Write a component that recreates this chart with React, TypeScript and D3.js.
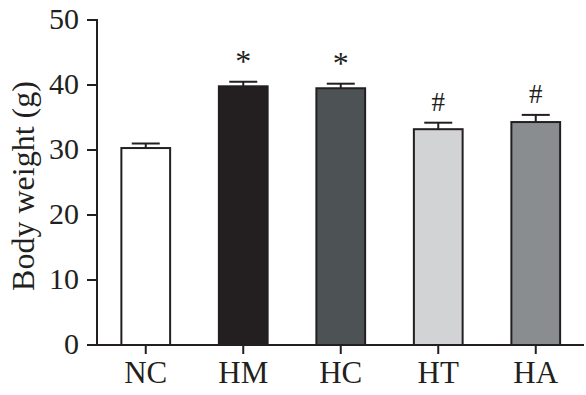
import React from "react";
import * as d3 from "d3";

const categories = ["NC", "HM", "HC", "HT", "HA"];
const values = [30.3, 39.8, 39.5, 33.2, 34.3];
const errors = [0.7, 0.7, 0.7, 1.0, 1.1];
const marks = ["", "*", "*", "#", "#"];
const fills = ["#ffffff", "#231f20", "#4d5255", "#d1d3d4", "#8a8d8f"];
const yTicks = [0, 10, 20, 30, 40, 50];

const W = 586;
const H = 395;
const ink = "#231f20";
const font = "'Liberation Serif', 'Times New Roman', serif";

export default function App() {
  const x = d3
    .scaleBand<string>()
    .domain(categories)
    .range([97, 584.5])
    .paddingInner(0.5)
    .paddingOuter(0.25);
  const y = d3.scaleLinear().domain([0, 50]).range([345, 20]);
  const bw = x.bandwidth();

  return (
    <svg
      width={W}
      height={H}
      style={{ position: "absolute", left: 0, top: 0, background: "#fff" }}
      fontFamily={font}
    >
      {/* bars */}
      {categories.map((c, i) => {
        const x0 = x(c)!;
        const cx = x0 + bw / 2;
        const yt = y(values[i]);
        const ye = y(values[i] + errors[i]);
        const isStar = marks[i] === "*";
        return (
          <g key={c}>
            <line x1={cx} x2={cx} y1={yt} y2={ye} stroke={ink} strokeWidth={2} />
            <line x1={cx - 14} x2={cx + 14} y1={ye} y2={ye} stroke={ink} strokeWidth={2} />
            <rect
              x={x0}
              y={yt}
              width={bw}
              height={y(0) - yt}
              fill={fills[i]}
              stroke={ink}
              strokeWidth={2}
            />
            {marks[i] && (
              <text
                x={cx}
                y={ye - (isStar ? 10 : 12)}
                textAnchor="middle"
                fontSize={isStar ? 32 : 27}
                fill={ink}
              >
                {marks[i]}
              </text>
            )}
          </g>
        );
      })}

      {/* y axis */}
      <line x1={97} x2={97} y1={y(50) - 1} y2={y(0) + 1} stroke={ink} strokeWidth={2} />
      {yTicks.map((t) => (
        <g key={t}>
          <line x1={87} x2={97} y1={y(t)} y2={y(t)} stroke={ink} strokeWidth={2} />
          <text
            x={79}
            y={y(t)}
            textAnchor="end"
            dy="0.3em"
            fontSize={30}
            fill={ink}
          >
            {t}
          </text>
        </g>
      ))}

      {/* x axis */}
      <line x1={87} x2={584} y1={y(0)} y2={y(0)} stroke={ink} strokeWidth={2} />
      {categories.map((c) => {
        const cx = x(c)! + bw / 2;
        return (
          <g key={c}>
            <line x1={cx} x2={cx} y1={y(0)} y2={y(0) + 9} stroke={ink} strokeWidth={2} />
            <text x={cx} y={383} textAnchor="middle" fontSize={31} fill={ink}>
              {c}
            </text>
          </g>
        );
      })}

      {/* y title */}
      <text
        transform={`translate(34, ${186}) rotate(-90)`}
        textAnchor="middle"
        fontSize={32}
        fill={ink}
      >
        Body weight (g)
      </text>
    </svg>
  );
}
